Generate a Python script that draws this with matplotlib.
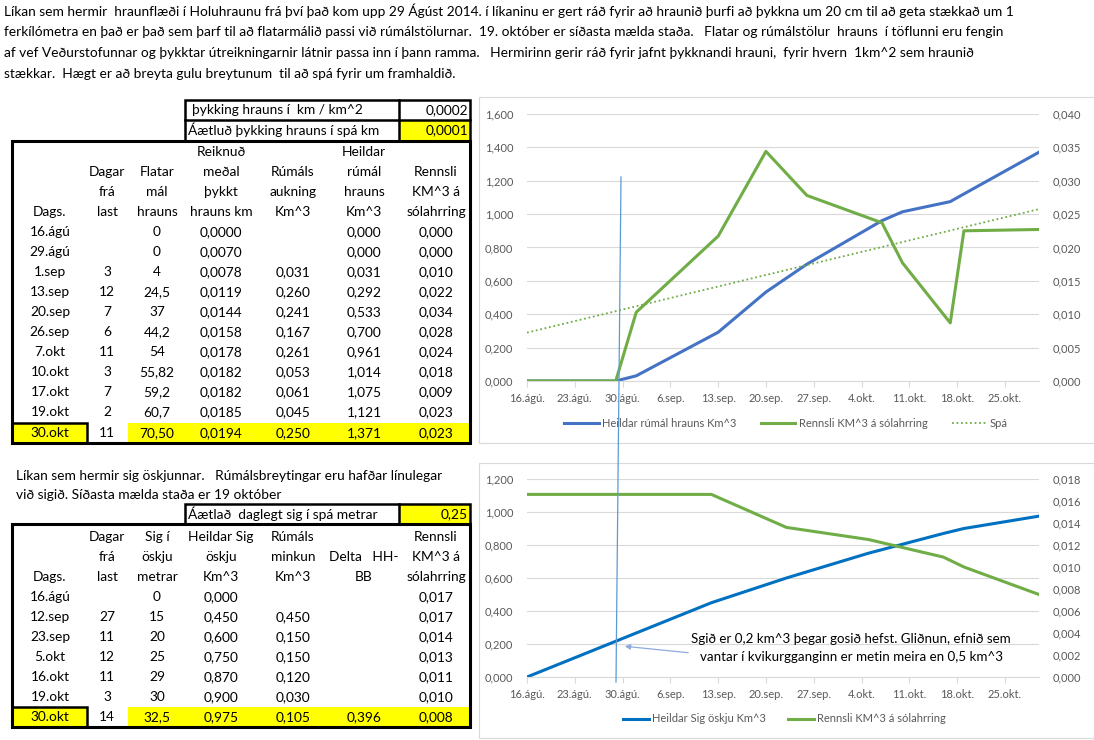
import matplotlib
matplotlib.use("Agg")
import matplotlib.pyplot as plt
import matplotlib.dates as mdates
import matplotlib.transforms as mtransforms
from matplotlib.patches import Rectangle, FancyArrowPatch
from matplotlib.lines import Line2D
from matplotlib.ticker import FuncFormatter, MultipleLocator
import pandas as pd

plt.rcParams['font.family'] = ['Lato', 'DejaVu Sans']

# ---- texti ----
intro_lines = [
    "Líkan sem hermir  hraunflæði í Holuhraunu frá því það kom upp 29 Ágúst 2014. í líkaninu er gert ráð fyrir að hraunið þurfi að þykkna um 20 cm til að geta stækkað um 1",
    "ferkílómetra en það er það sem þarf til að flatarmálið passi við rúmálstölurnar.  19. október er síðasta mælda staða.   Flatar og rúmálstölur  hrauns  í töflunni eru fengin",
    "af vef Veðurstofunnar og þykktar útreikningarnir látnir passa inn í þann ramma.   Hermirinn gerir ráð fyrir jafnt þykknandi hrauni,  fyrir hvern  1km^2 sem hraunið",
    "stækkar.  Hægt er að breyta gulu breytunum  til að spá fyrir um framhaldið.",
]
intro2_lines = [
    "Líkan sem hermir sig öskjunnar.   Rúmálsbreytingar eru hafðar línulegar",
    "við sigið. Síðasta mælda staða er 19 október",
]

# ---- efri tafla (hraun) ----
hraun_header = [
    ["", "", "", "Dags."],
    ["", "Dagar", "frá", "last"],
    ["", "Flatar", "mál", "hrauns"],
    ["Reiknuð", "meðal", "þykkt", "hrauns km"],
    ["", "Rúmáls", "aukning", "Km^3"],
    ["Heildar", "rúmál", "hrauns", "Km^3"],
    ["", "Rennsli", "KM^3 á", "sólahrring"],
]
hraun_dags = ["16.ágú", "29.ágú", "1.sep", "13.sep", "20.sep", "26.sep", "7.okt", "10.okt", "17.okt", "19.okt", "30.okt"]
hraun_dagar = ["", "", "3", "12", "7", "6", "11", "3", "7", "2", "11"]
hraun_flatar = ["0", "0", "4", "24,5", "37", "44,2", "54", "55,82", "59,2", "60,7", "70,50"]
hraun_thykkt = ["0,0000", "0,0070", "0,0078", "0,0119", "0,0144", "0,0158", "0,0178", "0,0182", "0,0182", "0,0185", "0,0194"]
hraun_aukning = ["", "", "0,031", "0,260", "0,241", "0,167", "0,261", "0,053", "0,061", "0,045", "0,250"]
hraun_heildar = ["0,000", "0,000", "0,031", "0,292", "0,533", "0,700", "0,961", "1,014", "1,075", "1,121", "1,371"]
hraun_rennsli = ["0,000", "0,000", "0,010", "0,022", "0,034", "0,028", "0,024", "0,018", "0,009", "0,023", "0,023"]

# ---- neðri tafla (sig) ----
sig_header = [
    ["", "", "Dags."],
    ["Dagar", "frá", "last"],
    ["Sig í", "öskju", "metrar"],
    ["Heildar Sig", "öskju", "Km^3"],
    ["Rúmáls", "minkun", "Km^3"],
    ["", "Delta   HH-", "BB"],
    ["Rennsli", "KM^3 á", "sólahrring"],
]
sig_dags = ["16.ágú", "12.sep", "23.sep", "5.okt", "16.okt", "19.okt", "30.okt"]
sig_dagar = ["", "27", "11", "12", "11", "3", "14"]
sig_metrar = ["0", "15", "20", "25", "29", "30", "32,5"]
sig_heildar = ["0,000", "0,450", "0,600", "0,750", "0,870", "0,900", "0,975"]
sig_minkun = ["", "0,450", "0,150", "0,150", "0,120", "0,030", "0,105"]
sig_delta = ["", "", "", "", "", "", "0,396"]
sig_rennsli = ["0,017", "0,017", "0,014", "0,013", "0,011", "0,010", "0,008"]

# ---- gröf ----
hraun_dates = ["2014-08-16", "2014-08-29", "2014-09-01", "2014-09-13", "2014-09-20", "2014-09-26",
               "2014-10-07", "2014-10-10", "2014-10-17", "2014-10-19", "2014-10-30"]
hraun_vol = [0.000, 0.000, 0.031, 0.292, 0.533, 0.700, 0.961, 1.014, 1.075, 1.121, 1.371]
hraun_flow = [0.0, 0.0, 0.0103, 0.0217, 0.0344, 0.0278, 0.0237, 0.0177, 0.0087, 0.0225, 0.0227]
spa_dates = ["2014-08-16", "2014-10-30"]
spa_vals = [0.29, 1.03]

sig_dates = ["2014-08-16", "2014-09-12", "2014-09-23", "2014-10-05", "2014-10-16", "2014-10-19", "2014-10-30"]
sig_vol = [0.000, 0.450, 0.600, 0.750, 0.870, 0.900, 0.975]
sig_flow = [0.0166, 0.0166, 0.0136, 0.0125, 0.0109, 0.0100, 0.0075]

tick_dates = ["2014-08-16", "2014-08-23", "2014-08-30", "2014-09-06", "2014-09-13", "2014-09-20",
              "2014-09-27", "2014-10-04", "2014-10-11", "2014-10-18", "2014-10-25"]
tick_labels = ["16.ágú.", "23.ágú.", "30.ágú.", "6.sep.", "13.sep.", "20.sep.",
               "27.sep.", "4.okt.", "11.okt.", "18.okt.", "25.okt."]

W, H = 1094, 740
fig = plt.figure(figsize=(W / 100, H / 100), dpi=100)
fig.patch.set_facecolor('white')
# pixla hnit, y nidur
px = mtransforms.Affine2D().scale(1 / W, -1 / H).translate(0, 1) + fig.transFigure

YELLOW = '#FFFF00'
GRAY = '#595959'
GRID = '#D9D9D9'
FS = 9.9


def put(x, y, s, ha='center', size=FS, color='black'):
    fig.text(x, y, s, transform=px, ha=ha, va='center', fontsize=size, color=color)


def box(x, y, w, h, lw=1.8, fc='none', ec='black', z=1):
    fig.add_artist(Rectangle((x, y), w, h, transform=px, fill=(fc != 'none'),
                             facecolor=fc, edgecolor=ec, lw=lw, zorder=z))


def hline(x0, x1, y, lw=1.8):
    fig.add_artist(Line2D([x0, x1], [y, y], transform=px, color='black', lw=lw))


def vline(x, y0, y1, lw=1.8):
    fig.add_artist(Line2D([x, x], [y0, y1], transform=px, color='black', lw=lw))


# inngangstexti
for i, line in enumerate(intro_lines):
    put(4, 11 + 21 * i, line, ha='left')
for i, line in enumerate(intro2_lines):
    put(16, 476 + 19 * i, line, ha='left')

cols_x = [50, 107, 157, 221, 293, 364, 436]

# ---- efri tafla ----
box(399, 120, 71, 21, lw=0, fc=YELLOW)
box(185, 100, 285, 41)
hline(185, 470, 120)
vline(399, 100, 141)
put(192, 110, "þykking hrauns í  km / km^2", ha='left')
put(468, 110, "0,0002", ha='right')
put(188, 130, "Áætluð þykking hrauns í spá km", ha='left')
put(468, 130, "0,0001", ha='right')

box(12, 423, 75, 20, lw=0, fc=YELLOW)
box(128, 423, 342, 20, lw=0, fc=YELLOW)
box(12, 141, 458, 302, lw=2.2)
box(12, 423, 75, 20)

for c, hdr in enumerate(hraun_header):
    for r, s in enumerate(hdr):
        put(cols_x[c], 152 + 20 * r, s)
hraun_cols = [hraun_dags, hraun_dagar, hraun_flatar, hraun_thykkt, hraun_aukning, hraun_heildar, hraun_rennsli]
for c, col in enumerate(hraun_cols):
    for r, s in enumerate(col):
        y = 232 + 20 * r if r < len(col) - 1 else 433
        put(cols_x[c], y, s)

# ---- neðri tafla ----
box(399, 504, 71, 20, lw=0, fc=YELLOW)
box(185, 504, 285, 20)
vline(399, 504, 524)
put(188, 514, "Áætlað  daglegt sig í spá metrar", ha='left')
put(468, 514, "0,25", ha='right')

box(12, 707, 75, 20, lw=0, fc=YELLOW)
box(128, 707, 342, 20, lw=0, fc=YELLOW)
box(12, 524, 458, 203, lw=2.2)
box(12, 707, 75, 20)

for c, hdr in enumerate(sig_header):
    for r, s in enumerate(hdr):
        put(cols_x[c], 537 + 20 * r, s)
sig_cols = [sig_dags, sig_dagar, sig_metrar, sig_heildar, sig_minkun, sig_delta, sig_rennsli]
for c, col in enumerate(sig_cols):
    for r, s in enumerate(col):
        y = 597 + 20 * r if r < len(col) - 1 else 717
        put(cols_x[c], y, s)

# ---- gröf ----
comma3 = FuncFormatter(lambda v, p: f"{v:.3f}".replace('.', ','))
tdates = mdates.date2num(pd.to_datetime(tick_dates))
xlim = mdates.date2num(pd.to_datetime(["2014-08-16", "2014-10-30"]))


def style(ax, axr, ylim, ystep, rlim, rstep):
    ax.set_xlim(*xlim)
    ax.set_ylim(*ylim)
    ax.yaxis.set_major_locator(MultipleLocator(ystep))
    ax.yaxis.set_major_formatter(comma3)
    axr.set_ylim(*rlim)
    axr.yaxis.set_major_locator(MultipleLocator(rstep))
    axr.yaxis.set_major_formatter(comma3)
    ax.set_xticks(tdates)
    ax.set_xticklabels(tick_labels)
    ax.grid(axis='y', color=GRID, lw=0.8)
    ax.set_axisbelow(True)
    for a in (ax, axr):
        for s in a.spines.values():
            s.set_visible(False)
    ax.spines['bottom'].set_visible(True)
    ax.spines['bottom'].set_color(GRID)
    ax.tick_params(axis='y', length=0, pad=10, labelsize=8, labelcolor=GRAY)
    axr.tick_params(axis='y', length=0, pad=10, labelsize=8, labelcolor=GRAY)
    ax.tick_params(axis='x', length=4, color=GRID, pad=5, labelsize=8, labelcolor=GRAY)


# efra graf
box(479, 97, 615, 346, lw=0.8, ec=GRID)
ax1 = fig.add_axes([527 / W, 1 - 381 / H, (1039 - 527) / W, (381 - 114) / H])
ax1r = ax1.twinx()
l1, = ax1.plot(pd.to_datetime(hraun_dates), hraun_vol, color='#4472C4', lw=2.2,
               label="Heildar rúmál hrauns Km^3")
l3, = ax1.plot(pd.to_datetime(spa_dates), spa_vals, color='#70AD47', lw=1.3, ls=(0, (1, 1.5)),
               label="Spá")
l2, = ax1r.plot(pd.to_datetime(hraun_dates), hraun_flow, color='#70AD47', lw=2.2,
                label="Rennsli KM^3 á sólahrring")
style(ax1, ax1r, (0, 1.6), 0.2, (0, 0.04), 0.005)
fig.legend([l1, l2, l3], [l1.get_label(), l2.get_label(), l3.get_label()],
           loc='center', bbox_to_anchor=(786 / W, 1 - 423 / H), ncol=3, frameon=False,
           fontsize=8, labelcolor=GRAY, handlelength=3.1, handletextpad=0.3, columnspacing=2.2)

# neðra graf
box(479, 463, 615, 275, lw=0.8, ec=GRID)
ax2 = fig.add_axes([527 / W, 1 - 677 / H, (1039 - 527) / W, (677 - 479) / H])
ax2r = ax2.twinx()
m1, = ax2.plot(pd.to_datetime(sig_dates), sig_vol, color='#0070C0', lw=2.2,
               label="Heildar Sig öskju Km^3")
m2, = ax2r.plot(pd.to_datetime(sig_dates), sig_flow, color='#70AD47', lw=2.2,
                label="Rennsli KM^3 á sólahrring")
style(ax2, ax2r, (0, 1.2), 0.2, (0, 0.018), 0.002)
fig.legend([m1, m2], [m1.get_label(), m2.get_label()],
           loc='center', bbox_to_anchor=(784 / W, 1 - 719 / H), ncol=2, frameon=False,
           fontsize=8, labelcolor=GRAY, handlelength=2.4, handletextpad=0.2, columnspacing=2.0)

put(851, 639, "Sgið er 0,2 km^3 þegar gosið hefst. Gliðnun, efnið sem", size=9.6)
put(851, 657, "vantar í kvikurgganginn er metin meira en 0,5 km^3", size=9.6)
fig.add_artist(FancyArrowPatch((691, 653), (622, 646), transform=px, arrowstyle='-|>',
                               mutation_scale=8, color='#8FAADC', lw=0.9, zorder=3))

# lóðrétt lína yfir bæði gröf
fig.add_artist(Line2D([621, 616], [177, 682], transform=px, color='#5B9BD5', lw=0.9, zorder=3))

fig.savefig("out.png", dpi=100, facecolor='white')
